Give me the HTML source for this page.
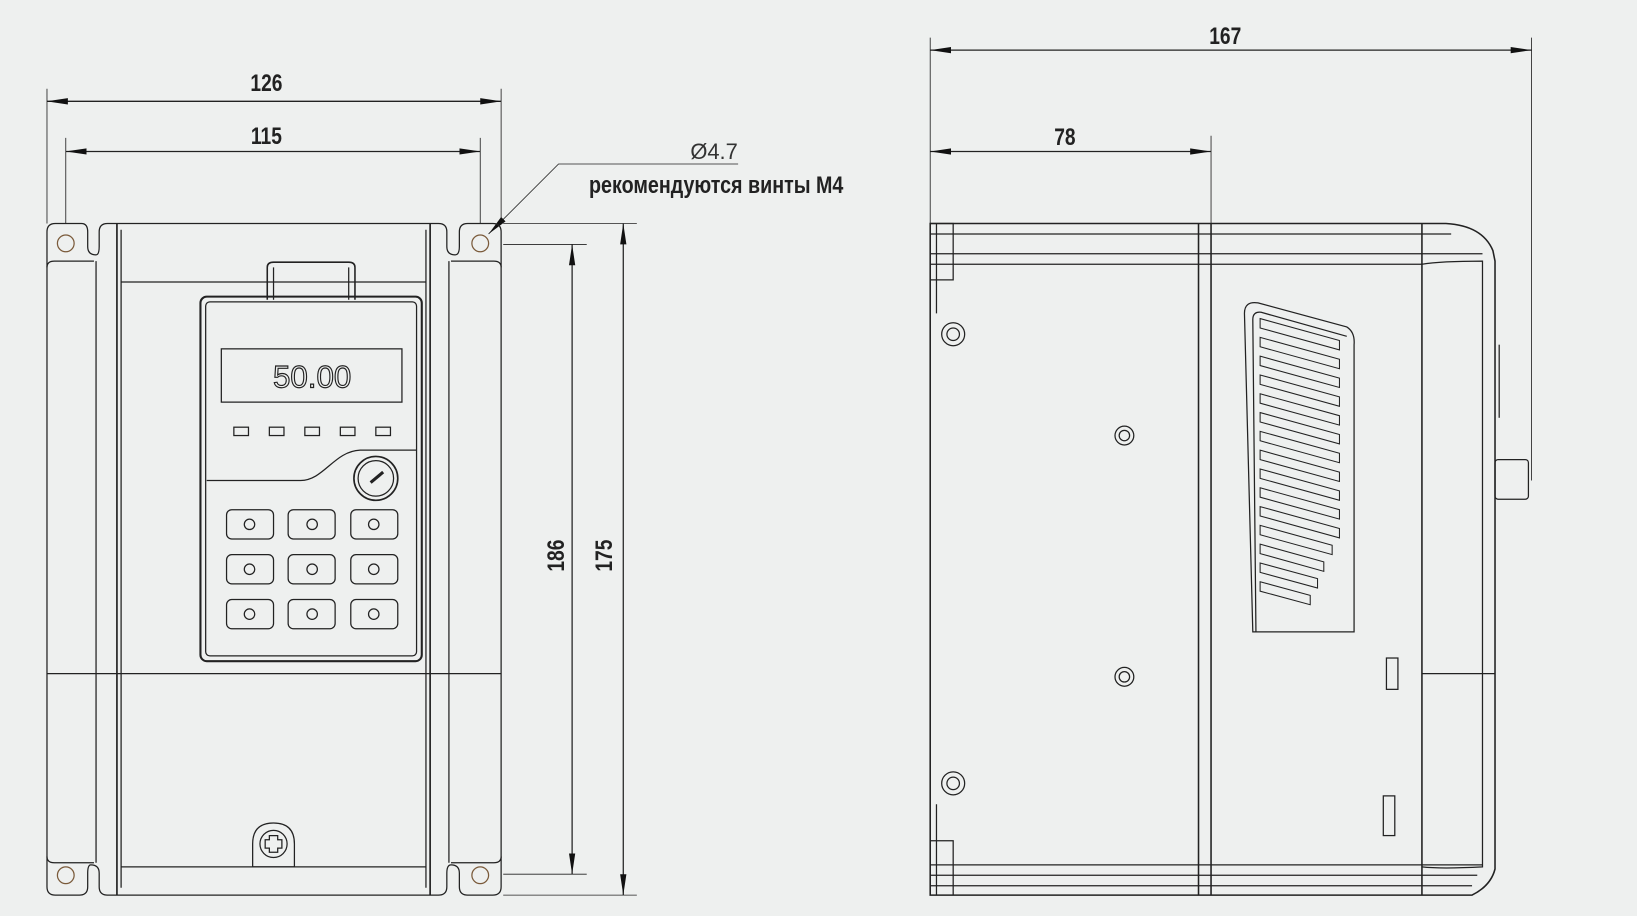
<!DOCTYPE html>
<html><head><meta charset="utf-8"><style>
html,body{margin:0;padding:0;background:#eef0ef;}
svg{display:block;}
text{font-family:"Liberation Sans",sans-serif;}
.d{font-weight:bold;font-size:23px;fill:#222;}
</style></head><body>
<svg width="1637" height="916" viewBox="0 0 1568 877" preserveAspectRatio="none" xmlns="http://www.w3.org/2000/svg">
<defs>
<marker id="a" viewBox="0 0 20 7" refX="20" refY="3.5" markerWidth="20" markerHeight="7" markerUnits="userSpaceOnUse" orient="auto-start-reverse"><path d="M0,0.5L20,3.5L0,6.5z" fill="#111"/></marker>
</defs>
<rect width="1568" height="877" fill="#eef0ef"/>
<g stroke="#222" fill="none" stroke-width="1.2">
<line x1="45" y1="85" x2="45" y2="214" stroke-width="0.8"/>
<line x1="480" y1="85" x2="480" y2="214" stroke-width="0.8"/>
<line x1="45" y1="97" x2="480" y2="97" marker-start="url(#a)" marker-end="url(#a)"/>
<line x1="63" y1="132" x2="63" y2="214" stroke-width="0.8"/>
<line x1="460" y1="132" x2="460" y2="214" stroke-width="0.8"/>
<line x1="63" y1="145" x2="460" y2="145" marker-start="url(#a)" marker-end="url(#a)"/>
<line x1="482" y1="234" x2="562" y2="234" stroke-width="0.8"/>
<line x1="482" y1="837" x2="562" y2="837" stroke-width="0.8"/>
<line x1="548" y1="234" x2="548" y2="837" marker-start="url(#a)" marker-end="url(#a)"/>
<line x1="482" y1="214" x2="610" y2="214" stroke-width="0.8"/>
<line x1="482" y1="857" x2="610" y2="857" stroke-width="0.8"/>
<line x1="597" y1="214" x2="597" y2="857" marker-start="url(#a)" marker-end="url(#a)"/>
<polyline points="707,157 535,157 468,224" stroke-width="0.8" marker-end="url(#a)"/>
<path d="M45,222 Q45,214 53,214 L78,214 Q84,214 84,222 L84,236 Q84,244 92,244 Q95,244 95,236 L95,222 Q95,214 103,214 L420,214 Q428,214 428,222 L428,236 Q428,244 436,244 Q440,244 440,236 L440,222 Q440,214 448,214 L472,214 Q480,214 480,222 L480,849 Q480,857 472,857 L448,857 Q440,857 440,849 L440,836 Q440,828 432,828 Q428,828 428,836 L428,849 Q428,857 420,857 L103,857 Q95,857 95,849 L95,836 Q95,828 87,828 Q84,828 84,836 L84,849 Q84,857 76,857 L53,857 Q45,857 45,849 Z" fill="none"/>
<path d="M45,256 Q45,250 52,250 L90,250 M432,250 L473,250 Q480,250 480,256"/>
<path d="M45,820 Q45,826 52,826 L90,826 M432,826 L473,826 Q480,826 480,820"/>
<line x1="92" y1="250" x2="92" y2="826"/><line x1="430" y1="250" x2="430" y2="826"/>
<line x1="112" y1="214" x2="112" y2="857" stroke-width="1.6"/><line x1="116" y1="220" x2="116" y2="850"/>
<line x1="412" y1="214" x2="412" y2="857" stroke-width="1.6"/><line x1="408" y1="220" x2="408" y2="850"/>
<line x1="116" y1="270" x2="408" y2="270"/>
<line x1="45" y1="645" x2="480" y2="645"/>
<line x1="116" y1="830" x2="408" y2="830"/>
<circle cx="63" cy="233" r="8" stroke="#7a5a3a"/><circle cx="460" cy="233" r="8" stroke="#7a5a3a"/>
<circle cx="63" cy="838" r="8" stroke="#7a5a3a"/><circle cx="460" cy="838" r="8" stroke="#7a5a3a"/>
<path d="M256,287 L256,256 Q256,251 262,251 L334,251 Q340,251 340,256 L340,287" stroke-width="1.5"/>
<line x1="262" y1="256" x2="262" y2="287"/><line x1="334" y1="256" x2="334" y2="287"/>
<rect x="192" y="284" width="212" height="349" rx="6" stroke-width="2"/>
<rect x="197" y="289" width="202" height="339" rx="4"/>
<rect x="212" y="334" width="173" height="51"/>
<rect x="224" y="409" width="14" height="8"/><rect x="258" y="409" width="14" height="8"/><rect x="292" y="409" width="14" height="8"/><rect x="326" y="409" width="14" height="8"/><rect x="360" y="409" width="14" height="8"/>
<path d="M198,460 L288,460 C310,460 320,432 345,431 L399,431"/>
<circle cx="360" cy="458" r="21" stroke-width="1.6"/><circle cx="360" cy="458" r="17"/>
<line x1="355" y1="462" x2="367" y2="452" stroke-width="3"/>
<g>
<rect x="217" y="488" width="45" height="28" rx="5"/><rect x="276" y="488" width="45" height="28" rx="5"/><rect x="336" y="488" width="45" height="28" rx="5"/>
<rect x="217" y="531" width="45" height="28" rx="5"/><rect x="276" y="531" width="45" height="28" rx="5"/><rect x="336" y="531" width="45" height="28" rx="5"/>
<rect x="217" y="574" width="45" height="28" rx="5"/><rect x="276" y="574" width="45" height="28" rx="5"/><rect x="336" y="574" width="45" height="28" rx="5"/>
<circle cx="239" cy="502" r="5"/><circle cx="299" cy="502" r="5"/><circle cx="358" cy="502" r="5"/>
<circle cx="239" cy="545" r="5"/><circle cx="299" cy="545" r="5"/><circle cx="358" cy="545" r="5"/>
<circle cx="239" cy="588" r="5"/><circle cx="299" cy="588" r="5"/><circle cx="358" cy="588" r="5"/>
</g>
<path d="M242,808 Q242,788 262,788 Q282,788 282,808 L282,830 L242,830 Z"/>
<circle cx="262" cy="808" r="13"/>
<path d="M258,800 h8 v4 h4 v8 h-4 v4 h-8 v-4 h-4 v-8 h4 z"/>
<line x1="891" y1="36" x2="891" y2="214" stroke-width="0.8"/>
<line x1="1467" y1="36" x2="1467" y2="460" stroke-width="0.8"/>
<line x1="891" y1="48" x2="1467" y2="48" marker-start="url(#a)" marker-end="url(#a)"/>
<line x1="1160" y1="130" x2="1160" y2="214" stroke-width="0.8"/>
<line x1="891" y1="145" x2="1160" y2="145" marker-start="url(#a)" marker-end="url(#a)"/>
<path d="M891,214 L1385,214 Q1420,216 1430,240 L1432,250 L1432,832 Q1428,848 1410,857 L891,857 Z" stroke-width="1.5"/>
<line x1="891" y1="224" x2="1390" y2="224"/>
<line x1="891" y1="243" x2="1420" y2="243"/>
<line x1="891" y1="253" x2="1362" y2="253"/>
<path d="M1362,253 Q1380,250 1420,250 L1420,830 Q1380,832 1362,830"/>
<line x1="891" y1="828" x2="1420" y2="828"/>
<line x1="891" y1="838" x2="1415" y2="838"/>
<line x1="891" y1="848" x2="1410" y2="848"/>
<line x1="1148" y1="214" x2="1148" y2="857" stroke-width="1.5"/><line x1="1160" y1="214" x2="1160" y2="857" stroke-width="1.5"/>
<line x1="1362" y1="214" x2="1362" y2="857" stroke-width="1.5"/>
<line x1="1362" y1="645" x2="1432" y2="645"/>
<path d="M891,214 L913,214 L913,268 L891,268 M897,214 L897,300 M891,805 L913,805 L913,857 M897,770 L897,857"/>
<circle cx="913" cy="320" r="11"/><circle cx="913" cy="320" r="6"/>
<circle cx="1077" cy="417" r="9"/><circle cx="1077" cy="417" r="5"/>
<circle cx="1077" cy="648" r="9"/><circle cx="1077" cy="648" r="5"/>
<circle cx="913" cy="750" r="11"/><circle cx="913" cy="750" r="6"/>
<path d="M1200,605 L1192,300 Q1192,288 1205,290 L1290,313 Q1298,318 1297,330 L1297,605 Z"/>
<path d="M1203,605 L1200,306 Q1200,298 1208,299 L1290,322"/>
<rect x="1328" y="630" width="11" height="30"/><rect x="1325" y="762" width="11" height="38"/>
<rect x="1432" y="440" width="32" height="38" rx="3"/>
<line x1="1436" y1="330" x2="1436" y2="400"/>
<g fill="none" stroke-width="1">
<polygon points="1207,305 1283,326 1283,335 1207,314"/>
<polygon points="1207,323 1283,344 1283,353 1207,332"/>
<polygon points="1207,341 1283,362 1283,371 1207,350"/>
<polygon points="1207,359 1283,380 1283,389 1207,368"/>
<polygon points="1207,377 1283,398 1283,407 1207,386"/>
<polygon points="1207,395 1283,416 1283,425 1207,404"/>
<polygon points="1207,413 1283,434 1283,443 1207,422"/>
<polygon points="1207,431 1283,452 1283,461 1207,440"/>
<polygon points="1207,449 1283,470 1283,479 1207,458"/>
<polygon points="1207,467 1283,488 1283,497 1207,476"/>
<polygon points="1207,485 1283,506 1283,515 1207,494"/>
<polygon points="1207,503 1276,522 1276,531 1207,512"/>
<polygon points="1207,521 1268,538 1268,547 1207,530"/>
<polygon points="1207,539 1262,554 1262,563 1207,548"/>
<polygon points="1207,557 1255,570 1255,579 1207,566"/>
</g>
</g>
<text x="684" y="152" font-size="21" fill="#333" text-anchor="middle">Ø4.7</text>
<text x="686" y="185" class="d" font-size="20" text-anchor="middle" transform="translate(686 0) scale(0.82 1) translate(-686 0)">рекомендуются винты М4</text>
<g transform="scale(0.8 1)">
<text x="319" y="87" class="d" text-anchor="middle">126</text>
<text x="319" y="138" class="d" text-anchor="middle">115</text>
<text x="1467" y="42" class="d" text-anchor="middle">167</text>
<text x="1275" y="139" class="d" text-anchor="middle">78</text>
</g>
<text class="d" text-anchor="middle" transform="translate(540 532) rotate(-90) scale(0.8 1)">186</text>
<text class="d" text-anchor="middle" transform="translate(586 532) rotate(-90) scale(0.8 1)">175</text>
<text x="299" y="371" font-size="30" fill="none" stroke="#222" stroke-width="1.1" text-anchor="middle">50.00</text>
</svg>
</body></html>
